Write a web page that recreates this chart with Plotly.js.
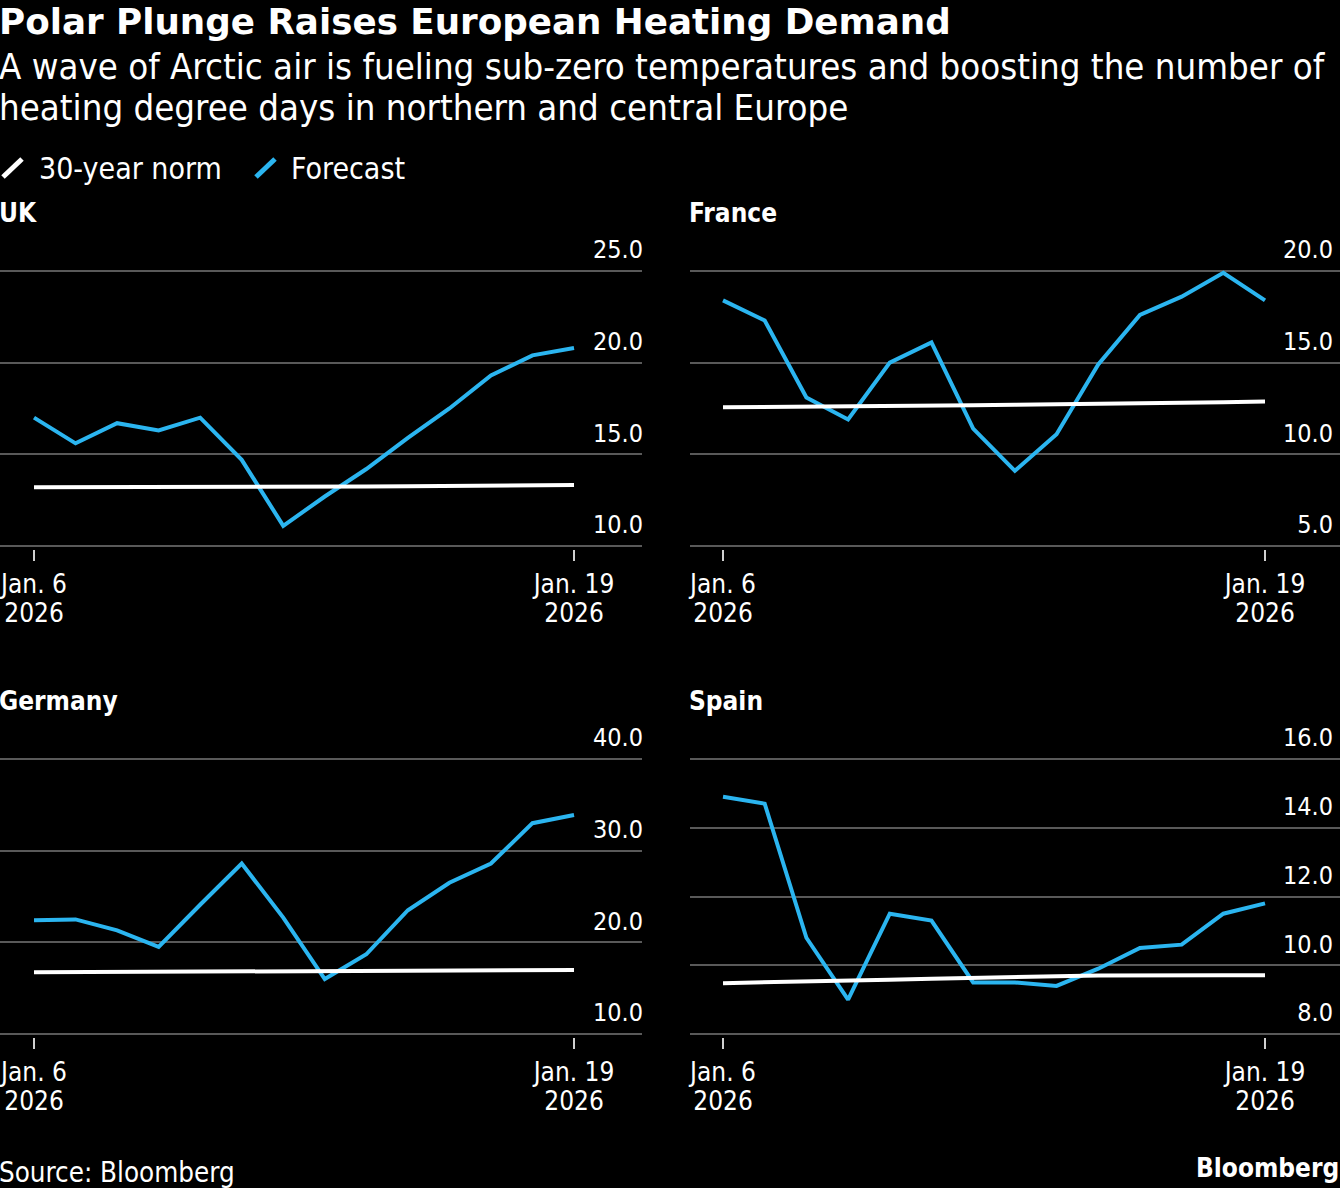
<!DOCTYPE html>
<html>
<head>
<meta charset="utf-8">
<script src="https://cdn.plot.ly/plotly-3.0.1.min.js"></script>
<style>
  html, body { margin: 0; padding: 0; background: #000; }
  #chart { width: 1340px; height: 1188px; }
</style>
</head>
<body>
<div id="chart"></div>
<script>
// ---- Data ----
const dates = ['2026-01-06','2026-01-07','2026-01-08','2026-01-09','2026-01-10','2026-01-11','2026-01-12',
               '2026-01-13','2026-01-14','2026-01-15','2026-01-16','2026-01-17','2026-01-18','2026-01-19'];
const tickDates = ['2026-01-06', '2026-01-19'];
const tickDayLabels = ['Jan. 6', 'Jan. 19'];
const tickYearLabels = ['2026', '2026'];

const ukForecast = [17.0, 15.6, 16.7, 16.3, 17.0, 14.7, 11.1, 12.7, 14.2, 15.9, 17.5, 19.3, 20.4, 20.8];
const ukNorm     = [13.20, 13.20, 13.20, 13.20, 13.21, 13.22, 13.23, 13.24, 13.25, 13.26, 13.27, 13.28, 13.30, 13.33];
const frForecast = [18.4, 17.3, 13.1, 11.9, 15.0, 16.1, 11.4, 9.1, 11.1, 14.9, 17.6, 18.6, 19.9, 18.4];
const frNorm     = [12.57, 12.58, 12.60, 12.62, 12.64, 12.66, 12.68, 12.70, 12.72, 12.74, 12.77, 12.80, 12.84, 12.88];
const deForecast = [22.4, 22.5, 21.3, 19.5, 24.1, 28.6, 22.7, 16.0, 18.7, 23.5, 26.5, 28.6, 33.0, 33.9];
const deNorm     = [16.73, 16.75, 16.77, 16.79, 16.81, 16.83, 16.85, 16.87, 16.89, 16.91, 16.93, 16.95, 16.97, 16.98];
const esForecast = [14.9, 14.7, 10.8, 9.0, 11.5, 11.3, 9.5, 9.5, 9.4, 9.9, 10.5, 10.6, 11.5, 11.8];
const esNorm     = [9.48, 9.50, 9.52, 9.55, 9.58, 9.61, 9.64, 9.66, 9.68, 9.70, 9.71, 9.71, 9.71, 9.71];

const panelNames = ['UK', 'France', 'Germany', 'Spain'];
const seriesNames = ['30-year norm', 'Forecast'];

// ---- Style ----
const W = 1340, H = 1188;
const BLUE = '#2BB5F0';
const WHITE = '#FFFFFF';
const GRID = '#595959';
const FONT = 'DejaVu Sans Condensed, DejaVu Sans, sans-serif';
const px = v => v / W;
const py = v => 1 - v / H;

const forecasts = [ukForecast, frForecast, deForecast, esForecast];
const norms = [ukNorm, frNorm, deNorm, esNorm];
const yBase = [[10, 25], [5, 20], [10, 40], [8, 16]];
const yDticks = [5, 5, 10, 2];
// pad ranges by 3px so the edge gridlines are kept
const PAD = 3, SPAN_PX = 275;
const yRanges = yBase.map(r => { const p = (r[1] - r[0]) * PAD / SPAN_PX; return [r[0] - p, r[1] + p]; });

const xDomains = [[0, px(642)], [px(690), 1], [0, px(642)], [px(690), 1]];
const yDomains = [[py(546 + PAD), py(271 - PAD)], [py(546 + PAD), py(271 - PAD)],
                  [py(1034 + PAD), py(759 - PAD)], [py(1034 + PAD), py(759 - PAD)]];
const xRanges = [
  ['2026-01-05 04:21', '2026-01-20 15:17'],
  ['2026-01-05 05:00', '2026-01-20 19:10'],
  ['2026-01-05 04:21', '2026-01-20 15:17'],
  ['2026-01-05 05:00', '2026-01-20 19:10']
];
const yLabelStandoff = [-4, 4, -4, 4];

const traces = [];
const layout = {
  width: W, height: H,
  margin: {l: 0, r: 0, t: 0, b: 0},
  paper_bgcolor: '#000', plot_bgcolor: '#000',
  font: {family: FONT, color: '#fff', size: 25},
  showlegend: false,
  annotations: [],
  shapes: []
};

for (let i = 0; i < 4; i++) {
  const n = i === 0 ? '' : String(i + 1);
  const m = String(i + 5);
  traces.push({
    x: dates, y: forecasts[i], type: 'scatter', mode: 'lines', name: seriesNames[1],
    line: {color: BLUE, width: 4}, xaxis: 'x' + n, yaxis: 'y' + n, hoverinfo: 'x+y'
  });
  traces.push({
    x: dates, y: norms[i], type: 'scatter', mode: 'lines', name: seriesNames[0],
    line: {color: WHITE, width: 4}, xaxis: 'x' + n, yaxis: 'y' + n, hoverinfo: 'x+y'
  });
  layout['xaxis' + n] = {
    domain: xDomains[i], anchor: 'y' + n, type: 'date', range: xRanges[i],
    showgrid: false, zeroline: false, showline: false,
    tickmode: 'array', tickvals: tickDates, ticktext: tickDayLabels,
    ticks: 'outside', ticklen: 14 - PAD, tickwidth: 2, tickcolor: '#d0d0d0',
    ticklabelstandoff: 1, ticklabeloverflow: 'allow',
    tickfont: {family: FONT, size: 26, color: '#fff'}, fixedrange: true
  };
  // second line of the date labels (year), on an overlaid axis for tighter line spacing
  layout['xaxis' + m] = {
    domain: xDomains[i], anchor: 'y' + n, overlaying: 'x' + n, type: 'date', range: xRanges[i],
    showgrid: false, zeroline: false, showline: false,
    tickmode: 'array', tickvals: tickDates, ticktext: tickYearLabels,
    ticks: 'outside', ticklen: 14 - PAD, tickwidth: 0, tickcolor: 'rgba(0,0,0,0)',
    ticklabelstandoff: 30, ticklabeloverflow: 'allow',
    tickfont: {family: FONT, size: 26, color: '#fff'}, fixedrange: true
  };
  traces.push({
    x: [dates[0]], y: [norms[i][0]], type: 'scatter', mode: 'lines', name: '',
    line: {color: 'rgba(0,0,0,0)', width: 0}, xaxis: 'x' + m, yaxis: 'y' + n, hoverinfo: 'skip'
  });
  layout['yaxis' + n] = {
    domain: yDomains[i], anchor: 'x' + n, side: 'right', range: yRanges[i],
    tick0: 0, dtick: yDticks[i], tickformat: '.1f',
    showgrid: true, gridcolor: GRID, gridwidth: 2, zeroline: false, showline: false,
    ticks: '', ticklabelposition: 'inside top', ticklabeloverflow: 'allow',
    ticklabelshift: -4, ticklabelstandoff: yLabelStandoff[i],
    tickfont: {family: FONT, size: 25, color: '#fff'}, fixedrange: true
  };
}

// Titles
layout.annotations.push({
  xref: 'paper', yref: 'paper', x: 0, y: py(22), xanchor: 'left', yanchor: 'middle', xshift: -3,
  text: '<b>Polar Plunge Raises European Heating Demand</b>', showarrow: false,
  font: {family: 'DejaVu Sans, sans-serif', size: 35.7, color: '#fff'}
});
layout.annotations.push({
  xref: 'paper', yref: 'paper', x: 0, y: py(66), xanchor: 'left', yanchor: 'middle', xshift: -3,
  text: 'A wave of Arctic air is fueling sub-zero temperatures and boosting the number of', showarrow: false,
  font: {family: FONT, size: 36.3, color: '#fff'}
});
layout.annotations.push({
  xref: 'paper', yref: 'paper', x: 0, y: py(107), xanchor: 'left', yanchor: 'middle', xshift: -3,
  text: 'heating degree days in northern and central Europe', showarrow: false,
  font: {family: FONT, size: 36.3, color: '#fff'}
});

// Legend (custom)
layout.shapes.push({type: 'line', xref: 'paper', yref: 'paper', x0: px(3), y0: py(177), x1: px(22), y1: py(159),
  line: {color: WHITE, width: 5}});
layout.shapes.push({type: 'line', xref: 'paper', yref: 'paper', x0: px(256), y0: py(177), x1: px(275), y1: py(159),
  line: {color: BLUE, width: 5}});
layout.annotations.push({
  xref: 'paper', yref: 'paper', x: px(39), y: py(168), xanchor: 'left', yanchor: 'middle', xshift: -2,
  text: seriesNames[0], showarrow: false, font: {family: FONT, size: 30, color: '#fff'}
});
layout.annotations.push({
  xref: 'paper', yref: 'paper', x: px(291), y: py(168), xanchor: 'left', yanchor: 'middle', xshift: -2,
  text: seriesNames[1], showarrow: false, font: {family: FONT, size: 30, color: '#fff'}
});

// Panel titles
const panelTitlePos = [[0, 213], [690, 213], [0, 701], [690, 701]];
for (let i = 0; i < 4; i++) {
  layout.annotations.push({
    xref: 'paper', yref: 'paper', x: px(panelTitlePos[i][0]), y: py(panelTitlePos[i][1]),
    xanchor: 'left', yanchor: 'middle', xshift: -3, text: '<b>' + panelNames[i] + '</b>', showarrow: false,
    font: {family: FONT, size: 26, color: '#fff'}
  });
}

// Footer
layout.annotations.push({
  xref: 'paper', yref: 'paper', x: 0, y: py(1172), xanchor: 'left', yanchor: 'middle', xshift: -3,
  text: 'Source: Bloomberg', showarrow: false, font: {family: FONT, size: 27.5, color: '#fff'}
});
layout.annotations.push({
  xref: 'paper', yref: 'paper', x: px(1338), y: py(1168), xanchor: 'right', yanchor: 'middle', xshift: 3,
  text: '<b>Bloomberg</b>', showarrow: false, font: {family: FONT, size: 26, color: '#fff'}
});

Plotly.newPlot('chart', traces, layout, {displayModeBar: false, staticPlot: true});
</script>
</body>
</html>
